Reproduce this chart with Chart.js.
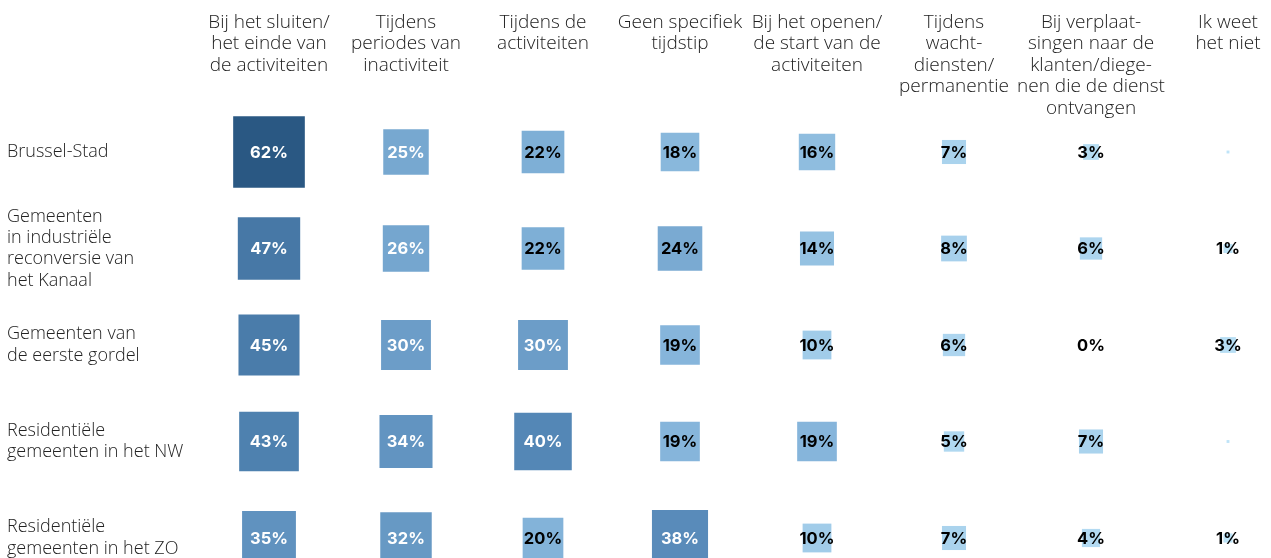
<!DOCTYPE html>
<html>
<head>
<meta charset="utf-8">
<script src="https://cdn.jsdelivr.net/npm/chart.js@4.4.1/dist/chart.umd.min.js"></script>
<style>
  html, body { margin: 0; padding: 0; background: #ffffff; }
  #wrap { width: 1271px; height: 558px; position: relative; }
</style>
</head>
<body>
<div id="wrap"><canvas id="chart"></canvas></div>
<script>
// Moments (columns), shown as multi-line headers
const moments = [
  ['Bij het sluiten/', 'het einde van', 'de activiteiten'],
  ['Tijdens', 'periodes van', 'inactiviteit'],
  ['Tijdens de', 'activiteiten'],
  ['Geen specifiek', 'tijdstip'],
  ['Bij het openen/', 'de start van de', 'activiteiten'],
  ['Tijdens', 'wacht-', 'diensten/', 'permanentie'],
  ['Bij verplaat-', 'singen naar de', 'klanten/diege-', 'nen die de dienst', 'ontvangen'],
  ['Ik weet', 'het niet']
];

// Regions (rows)
const regions = [
  'Brussel-Stad',
  ['Gemeenten', 'in industriële', 'reconversie van', 'het Kanaal'],
  ['Gemeenten van', 'de eerste gordel'],
  ['Residentiële', 'gemeenten in het NW'],
  ['Residentiële', 'gemeenten in het ZO']
];

// Share of respondents (%) per moment, one value per region
const atClosing        = [62, 47, 45, 43, 35];
const duringInactivity = [25, 26, 30, 34, 32];
const duringActivities = [22, 22, 30, 40, 20];
const noSpecificTime   = [18, 24, 19, 19, 38];
const atOpening        = [16, 14, 10, 19, 10];
const duringStandby    = [7, 8, 6, 5, 7];
const duringTravel     = [3, 6, 0, 7, 4];
const dontKnow         = [0.1, 1, 3, 0.1, 1];

const series = [atClosing, duringInactivity, duringActivities, noSpecificTime,
                atOpening, duringStandby, duringTravel, dontKnow];

// One point per cell; x and y are category indices (already in parsed form)
const cells = [];
series.forEach((vals, c) => vals.forEach((v, r) => cells.push({ x: c, y: r, v: v })));

// Square area proportional to the share
const SIDE_PER_SQRT = 9.1;
const sideOf = v => SIDE_PER_SQRT * Math.sqrt(Math.max(v, 0));

// Sequential blue scale
const stops = [
  [0,  [191, 228, 248]],
  [20, [131, 179, 217]],
  [40, [84, 135, 182]],
  [62, [42, 88, 131]]
];
function shade(v) {
  for (let i = 1; i < stops.length; i++) {
    if (v <= stops[i][0] || i === stops.length - 1) {
      const [a, ca] = stops[i - 1], [b, cb] = stops[i];
      const t = Math.min(1, Math.max(0, (v - a) / (b - a)));
      const c = ca.map((x, k) => Math.round(x + (cb[k] - x) * t));
      return `rgb(${c[0]},${c[1]},${c[2]})`;
    }
  }
}

// Percentage labels on top of the squares
const valueLabels = {
  id: 'valueLabels',
  afterDatasetsDraw(chart) {
    const ctx = chart.ctx;
    const meta = chart.getDatasetMeta(0);
    ctx.save();
    ctx.font = '700 16.5px Inter, "Open Sans", sans-serif';
    ctx.textAlign = 'center';
    ctx.textBaseline = 'middle';
    meta.data.forEach((pt, i) => {
      const v = cells[i].v;
      if (v > 0 && v < 0.5) return; // trace shares carry no printed value
      ctx.fillStyle = v >= 25 ? '#ffffff' : '#000000';
      ctx.fillText(Math.round(v) + '%', pt.x, pt.y + 1);
    });
    ctx.restore();
  }
};

const headerFont = { family: '"Open Sans", sans-serif', size: 19, weight: 300, lineHeight: '21.5px' };
const rowFont = { family: '"Open Sans", sans-serif', size: 18, weight: 300, lineHeight: '21.3px' };

new Chart(document.getElementById('chart'), {
  type: 'scatter',
  data: {
    datasets: [{
      data: cells,
      parsing: false,
      pointStyle: 'rect',
      pointRadius: ctx => sideOf(ctx.raw.v) / Math.SQRT2,
      pointHoverRadius: ctx => sideOf(ctx.raw.v) / Math.SQRT2,
      backgroundColor: ctx => shade(ctx.raw.v),
      borderWidth: 0,
      pointBorderWidth: 0,
      clip: false
    }]
  },
  options: {
    responsive: true,
    maintainAspectRatio: false,
    animation: false,
    events: [],
    layout: { autoPadding: false, padding: { left: 7, right: 43, top: 0, bottom: 20 } },
    plugins: { legend: { display: false }, tooltip: { enabled: false } },
    scales: {
      x: {
        type: 'category',
        labels: moments,
        position: 'top',
        offset: false,
        min: 0, max: moments.length - 1,
        grid: { display: false, drawTicks: false },
        border: { display: false },
        ticks: {
          autoSkip: false, minRotation: 0, maxRotation: 0,
          crossAlign: 'far', padding: 33,
          color: '#222222', font: headerFont
        },
        afterFit: s => { s.height = 152; s.paddingLeft = 0; s.paddingRight = 0; }
      },
      y: {
        type: 'category',
        labels: regions,
        offset: false,
        min: 0, max: regions.length - 1,
        grid: { display: false, drawTicks: false },
        border: { display: false },
        ticks: {
          autoSkip: false, crossAlign: 'far', padding: 0,
          color: '#222222', font: rowFont
        },
        afterFit: s => { s.width = 262; s.paddingTop = 0; s.paddingBottom = 0; }
      }
    }
  },
  plugins: [valueLabels]
});
</script>
</body>
</html>
